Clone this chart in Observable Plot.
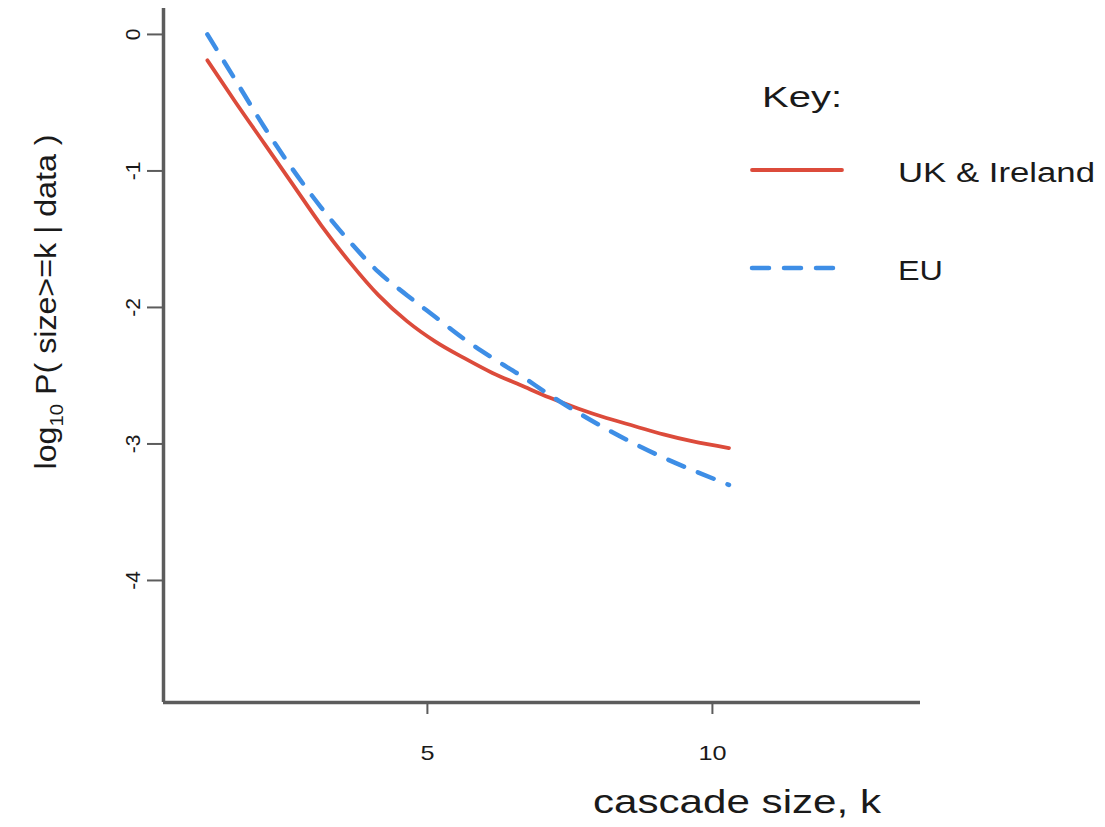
<!DOCTYPE html>
<html><head><meta charset="utf-8">
<script src="https://cdn.jsdelivr.net/npm/d3@7"></script>
<script src="https://cdn.jsdelivr.net/npm/@observablehq/plot@0.6"></script>
<style>
body{margin:0;background:#fff;}
#wrap{position:relative;width:1105px;height:827px;font-family:"Liberation Sans",Arial,Helvetica,sans-serif;}
#legend{position:absolute;left:0;top:0;pointer-events:none;}
</style></head><body><div id="wrap"></div>
<script>
// ---- data ----
const kValues   = [1, 1.5, 2, 2.5, 3, 3.5, 4, 4.5, 5, 5.5, 6, 6.5, 7, 7.5, 8, 8.5, 9, 9.5, 10.15];
const ukIreland = [-0.19, -0.50, -0.80, -1.10, -1.40, -1.67, -1.91, -2.10, -2.25, -2.37, -2.48, -2.57, -2.66, -2.74, -2.81, -2.87, -2.93, -2.98, -3.03];
const eu        = [0.00, -0.34, -0.68, -0.99, -1.27, -1.52, -1.74, -1.91, -2.07, -2.23, -2.37, -2.50, -2.64, -2.77, -2.89, -3.00, -3.10, -3.19, -3.30];
const seriesNames = ["UK & Ireland", "EU"];
const xTicks = [5, 10];
const yTicks = [0, -1, -2, -3, -4];
const xDomain = [0.23, 13.51];
const yDomain = [-4.894, 0.19];

const red = "#dc4b3b", blue = "#3e8ee6", axisColor = "#5c5c5c";
const font = '"Liberation Sans", Arial, Helvetica, sans-serif';

const ukData = kValues.map((k, i) => ({k, v: ukIreland[i]}));
const euData = kValues.map((k, i) => ({k, v: eu[i]}));

const svg = Plot.plot({
  width: 1105, height: 827,
  marginLeft: 163, marginRight: 185, marginTop: 8, marginBottom: 125,
  style: {fontFamily: font, fontSize: "21px", color: "#1a1a1a", background: "#fff"},
  x: {domain: xDomain},
  y: {domain: yDomain},
  marks: [
    Plot.line(ukData, {x: "k", y: "v", stroke: red, strokeWidth: 3.8, curve: "monotone-x"}),
    Plot.line(euData, {x: "k", y: "v", stroke: blue, strokeWidth: 4.5, strokeDasharray: "17,15", strokeLinecap: "round", curve: "monotone-x"}),
    Plot.ruleX([xDomain[0]], {stroke: axisColor, strokeWidth: 3.5}),
    Plot.ruleY([yDomain[0]], {stroke: axisColor, strokeWidth: 3.5}),
    Plot.axisX(xTicks, {tickSize: 12, tickPadding: 31, dx: -8, label: null, stroke: axisColor, strokeWidth: 2, fill: "#1a1a1a", fontSize: 21}),
    Plot.axisY(yTicks, {tickSize: 16, tickRotate: -90, tickPadding: 8, tickFormat: d => String(d), label: null, stroke: axisColor, strokeWidth: 2, fill: "#1a1a1a", fontSize: 21})
  ]
});
const wrap = document.getElementById("wrap");
wrap.appendChild(svg);

const S = d3.select(svg);
// all texts so far are tick labels
S.selectAll("text").style("font-size", "21px");
const xLabelSet = new Set(xTicks.map(String));
S.selectAll("text").filter(function() { return xLabelSet.has(this.textContent); }).each(function() {
  const w = this.getComputedTextLength();
  this.setAttribute("textLength", w * 1.2);
  this.setAttribute("lengthAdjust", "spacingAndGlyphs");
});

// axis titles
const yl = S.append("text")
  .attr("transform", "translate(56,302) rotate(-90)")
  .attr("text-anchor", "middle")
  .attr("font-family", font).attr("font-size", 30).attr("fill", "#1a1a1a");
yl.append("tspan").text("log");
yl.append("tspan").attr("font-size", 19).attr("dy", 7).text("10");
yl.append("tspan").attr("dy", -7).text(" P( size>=k | data )");
yl.attr("textLength", 335).attr("lengthAdjust", "spacingAndGlyphs");

S.append("text")
  .attr("x", 737).attr("y", 813)
  .attr("text-anchor", "middle")
  .attr("font-family", font).attr("font-size", 33).attr("fill", "#1a1a1a")
  .attr("textLength", 288).attr("lengthAdjust", "spacingAndGlyphs")
  .text("cascade size, k");

// legend (key)
const L = d3.select(wrap).append("svg").attr("id", "legend").attr("width", 1105).attr("height", 827);
L.append("text").attr("x", 762).attr("y", 107).attr("font-family", font).attr("font-size", 29).attr("fill", "#1a1a1a")
  .attr("textLength", 80).attr("lengthAdjust", "spacingAndGlyphs").text("Key:");
const styles = [
  {stroke: red, dash: null, width: 3.8, textLen: 197},
  {stroke: blue, dash: "17,15", width: 4.5, textLen: 45}
];
seriesNames.forEach((name, i) => {
  const yy = 170 + i * 98;
  L.append("line").attr("x1", 752).attr("x2", 842).attr("y1", yy).attr("y2", yy)
    .attr("stroke", styles[i].stroke).attr("stroke-width", styles[i].width)
    .attr("stroke-linecap", "round")
    .attr("stroke-dasharray", styles[i].dash);
  L.append("text").attr("x", 898).attr("y", yy + 12).attr("font-family", font).attr("font-size", 27).attr("fill", "#1a1a1a")
    .attr("textLength", styles[i].textLen).attr("lengthAdjust", "spacingAndGlyphs").text(name);
});
</script>
</body></html>
